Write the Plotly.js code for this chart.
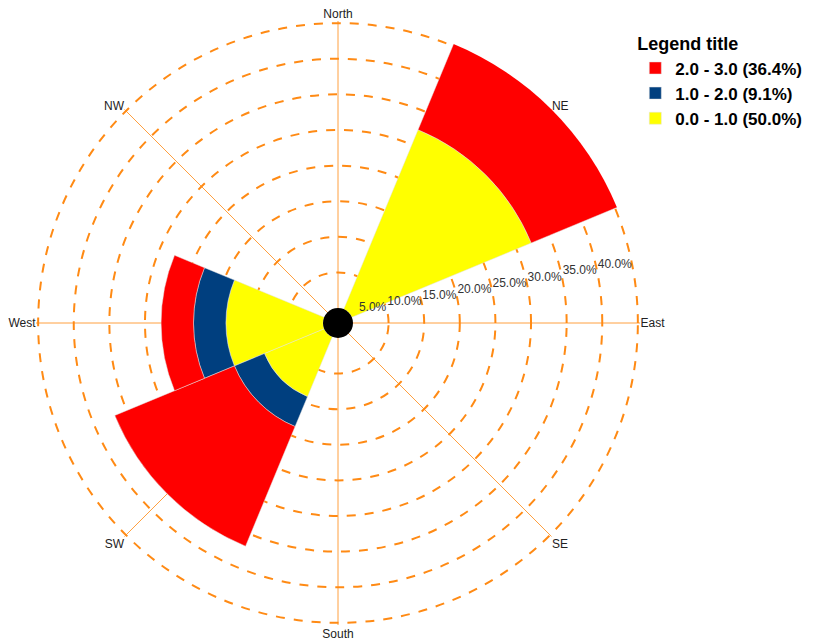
<!DOCTYPE html>
<html>
<head>
<meta charset="utf-8">
<script src="https://cdn.plot.ly/plotly-3.0.1.min.js"></script>
<style>
  html, body { margin: 0; padding: 0; background: #fff; }
  #windrose { width: 834px; height: 639px; }
</style>
</head>
<body>
<div id="windrose"></div>
<script>
// wind directions (categories around the rose)
var directions = ['North', 'NE', 'East', 'SE', 'South', 'SW', 'West', 'NW'];

// frequency (%) per direction for each speed class
var speed0to1 = [0, 27.27, 0, 0, 0, 9.09, 13.64, 0];
var speed1to2 = [0, 0, 0, 0, 0, 4.55, 4.55, 0];
var speed2to3 = [0, 13.64, 0, 0, 0, 18.18, 4.55, 0];

var classNames = ['0.0 - 1.0 (50.0%)', '1.0 - 2.0 (9.1%)', '2.0 - 3.0 (36.4%)'];
var classColors = ['#FFFF00', '#003F7F', '#FF0000'];

var radialTicks = [5, 10, 15, 20, 25, 30, 35, 40];
var radialLabels = ['5.0%', '10.0%', '15.0%', '20.0%', '25.0%', '30.0%', '35.0%', '40.0%'];

var rMin = -2.1; // inner offset so the zero ring sits just outside the centre disc

var orange = '#FF8A14';
var fontFam = '"Liberation Sans", Arial, sans-serif';

var series = [speed0to1, speed1to2, speed2to3];
var data = series.map(function (vals, i) {
  return {
    type: 'barpolar',
    r: vals,
    theta: directions,
    name: classNames[i],
    legendrank: 3 - i,
    marker: {
      color: classColors[i],
      line: { color: 'rgba(225,225,225,0.8)', width: 0.6 }
    },
    hoverinfo: 'name+theta+r'
  };
});

// black centre disc
data.push({
  type: 'scatterpolar', r: [rMin], theta: ['North'], mode: 'markers',
  marker: { color: '#000', size: 30 },
  cliponaxis: false, showlegend: false, hoverinfo: 'skip'
});

var layout = {
  width: 834,
  height: 639,
  margin: { l: 36, r: 0, t: 21, b: 14 },
  paper_bgcolor: '#fff',
  font: { family: fontFam, size: 12, color: '#222' },
  showlegend: true,
  legend: {
    x: 0.751,
    y: 0.99,
    xanchor: 'left',
    yanchor: 'top',
    traceorder: 'normal',
    title: { text: 'Legend title', font: { size: 18, weight: 'bold', color: '#000' } },
    font: { size: 17, weight: 'bold', color: '#000' },
    bgcolor: 'rgba(0,0,0,0)'
  },
  polar: {
    domain: { x: [0, 604 / 798], y: [0, 1] },
    bargap: 0,
    bgcolor: '#fff',
    radialaxis: {
      range: [rMin, 40.3],
      tickvals: radialTicks,
      ticktext: radialLabels,
      angle: 10,
      tickangle: 10,
      side: 'counterclockwise',
      showline: false,
      ticks: '',
      gridcolor: orange,
      gridwidth: 2,
      griddash: 'dash',
      tickfont: { size: 12, color: '#333' }
    },
    angularaxis: {
      rotation: 90,
      direction: 'clockwise',
      showline: false,
      ticks: '',
      gridcolor: '#FFA040',
      gridwidth: 1.1,
      tickfont: { size: 12, color: '#222' }
    }
  }
};

Plotly.newPlot('windrose', data, layout, { displayModeBar: false });
</script>
</body>
</html>
